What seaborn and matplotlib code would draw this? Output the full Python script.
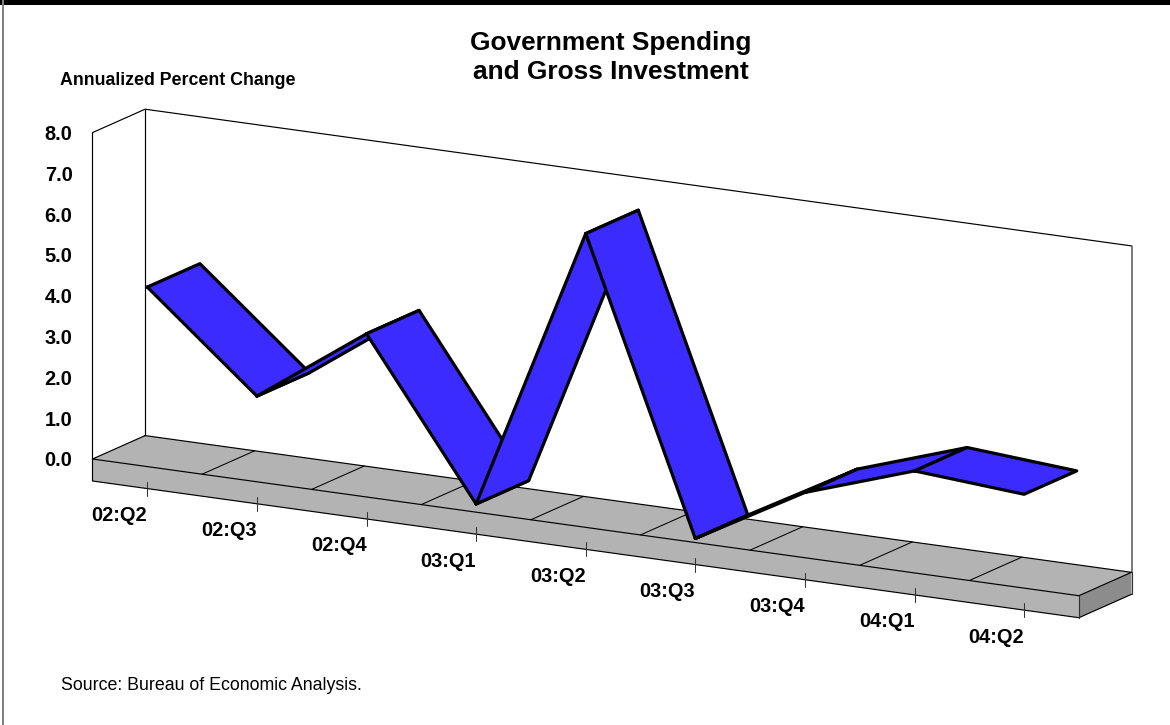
import matplotlib
matplotlib.use("Agg")
import matplotlib.pyplot as plt
import numpy as np
import pandas as pd
import seaborn as sns
from matplotlib.patches import Rectangle

quarters = ["02:Q2", "02:Q3", "02:Q4", "03:Q1", "03:Q2", "03:Q3", "03:Q4", "04:Q1", "04:Q2"]
pct_change = [4.4, 2.1, 4.0, 0.2, 7.2, 0.1, 1.6, 2.5, 2.3]
value_ticks = [0.0, 1.0, 2.0, 3.0, 4.0, 5.0, 6.0, 7.0, 8.0]
title_lines = ["Government Spending", "and Gross Investment"]
units_label = "Annualized Percent Change"
source_note = "Source: Bureau of Economic Analysis."

W, H = 1170, 725
PX_PER_CAT = 109.6
PX_PER_UNIT = 40.8
ORIGIN = (92.5, 459.0)
SLANT = -15.19 / PX_PER_UNIT     # value units lost per category along the floor
DEPTH = (52.6 / PX_PER_CAT, 23.4 / PX_PER_UNIT)  # plot depth in (category, value) units
SLAB = 22.0 / PX_PER_UNIT

BLUE = "#3b2bff"
FLOOR = "#b3b3b3"
SIDE = "#8c8c8c"
FONT = ["Liberation Sans", "DejaVu Sans"]

sns.set_theme(style="white")
plt.rcParams["font.family"] = FONT

fig = plt.figure(figsize=(W / 100, H / 100), dpi=100, facecolor="white")
ax = fig.add_axes([0, 0, 1, 1])
ax.set_xlim(-ORIGIN[0] / PX_PER_CAT, (W - ORIGIN[0]) / PX_PER_CAT)
ax.set_ylim(-(H - ORIGIN[1]) / PX_PER_UNIT, ORIGIN[1] / PX_PER_UNIT)
ax.set_autoscale_on(False)
ax.axis("off")


def project(pos, value, depth=0.0):
    """Oblique projection of (category position, value, depth) onto the axes."""
    pos, value, depth = np.asarray(pos, float), np.asarray(value, float), np.asarray(depth, float)
    return pos + DEPTH[0] * depth, value + SLANT * pos + DEPTH[1] * depth


def outline(pos, value, depth, lw, color="black", z=2, join="round"):
    x, y = project(pos, value, depth)
    sns.lineplot(x=x, y=y, sort=False, estimator=None, color=color, linewidth=lw,
                 ax=ax, legend=False, zorder=z, solid_joinstyle=join, solid_capstyle="round")


def face(pos, value, depth, color, z=1):
    x, y = project(pos, value, depth)
    ax.fill(x, y, facecolor=color, edgecolor="none", zorder=z)


n = len(quarters)
top = value_ticks[-1]

# Back wall and side wall outlines
outline([0, 0, 0, n], [0, top, top, top], [0, 0, 1, 1], 0.85, z=2)
outline([0, 0], [0, top], [1, 1], 0.85, z=2)
outline([n, n], [top, 0], [1, 1], 1.1, color="#555555", z=2)

# Floor slab: top, front and right faces
face([0, n, n, 0], [0, 0, 0, 0], [0, 0, 1, 1], FLOOR, z=3)
face([0, n, n, 0], [0, 0, -SLAB, -SLAB], [0, 0, 0, 0], FLOOR, z=3)
face([n, n, n, n], [0, 0, -SLAB, -SLAB], [0, 1, 1, 0], SIDE, z=3)
outline([0, n, n, 0, 0], [0, 0, 0, 0, 0], [1, 1, 0, 0, 1], 0.85, z=4)
outline([0, 0, n, n], [0, -SLAB, -SLAB, -SLAB], [0, 0, 0, 1], 0.85, z=4)
outline([n, n], [0, -SLAB], [1, 1], 0.85, color="#333333", z=4)
outline([n, n], [0, -SLAB], [0, 0], 0.85, color="#333333", z=4)
for b in range(1, n):
    outline([b, b], [0, 0], [0, 1], 0.75, z=4)

# Category ticks and labels along the slab's lower edge
tick_half = 7.0 / PX_PER_UNIT
for i, label in enumerate(quarters):
    c = i + 0.5
    outline([c, c], [-SLAB - tick_half, -SLAB + tick_half], [0, 0], 0.75, color="#333333", z=4)
    x, y = project(c, -SLAB, 0)
    ax.annotate(label, (x, y), xytext=(0, -27), textcoords="offset pixels", ha="right",
                va="center", fontsize=14.4, fontweight="bold", color="black", zorder=5)

# Value scale on the front of the side wall
for v in value_ticks:
    x, y = project(0, v, 0)
    ax.annotate(f"{v:.1f}", (x, y), xytext=(-20, -2), textcoords="offset pixels", ha="right",
                va="center", fontsize=14.4, fontweight="bold", color="black", zorder=5)

# Ribbon, painted left to right so that later segments overlap earlier ones
ribbon = pd.DataFrame({"quarter": quarters, "pos": np.arange(n) + 0.5, "value": pct_change})
for k in range(n - 1):
    a, b = ribbon.iloc[k], ribbon.iloc[k + 1]
    p = [a.pos, b.pos, b.pos, a.pos, a.pos]
    v = [a.value, b.value, b.value, a.value, a.value]
    d = [0, 0, 1, 1, 0]
    z = 10 + k
    face(p, v, d, BLUE, z=z)
    outline(p, v, d, 2.3, z=z)

# Page furniture
fig.add_artist(Rectangle((0, 1 - 4.5 / H), 1, 4.5 / H, transform=fig.transFigure,
                         facecolor="black", edgecolor="none"))
fig.add_artist(Rectangle((2.0 / W, 0), 2.4 / W, 1, transform=fig.transFigure,
                         facecolor="#808080", edgecolor="none"))
for line, yy in zip(title_lines, [43, 72]):
    fig.text(611 / W, 1 - yy / H, line, ha="center", va="center", fontsize=18.9,
             fontweight="bold", color="black")
fig.text(60 / W, 1 - 80.5 / H, units_label, ha="left", va="center", fontsize=12.8,
         fontweight="bold", color="black")
fig.text(61 / W, 1 - 685.5 / H, source_note, ha="left", va="center", fontsize=12.8,
         color="black")

fig.savefig("out.png", dpi=100, facecolor="white")
